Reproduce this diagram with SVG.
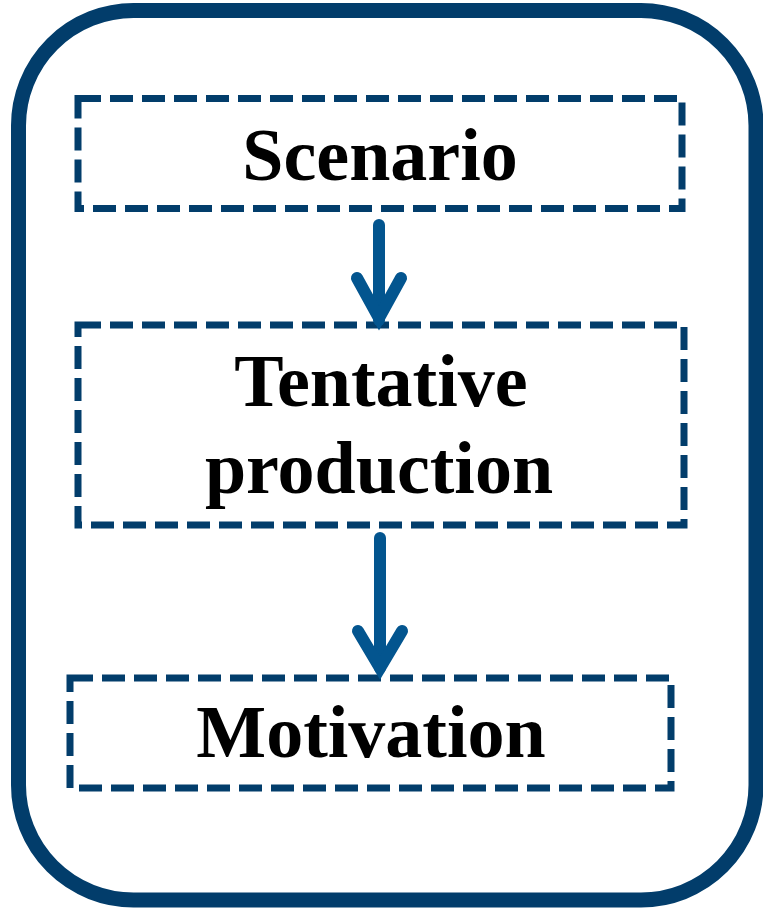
<svg xmlns="http://www.w3.org/2000/svg" width="763" height="908" viewBox="0 0 763 908">
<style>
.box{fill:none;stroke:#023D6B;stroke-width:7;stroke-dasharray:23 9}
.lbl{font-family:"Liberation Serif","Times New Roman",serif;font-weight:bold;font-size:74px;fill:#000;text-anchor:middle}
.arr{fill:none;stroke:#03558F;stroke-width:12;stroke-linecap:round;stroke-linejoin:miter}
</style>
<rect width="763" height="908" fill="#fff"/>
<g id="frame"><rect x="18.5" y="10.5" width="737.5" height="889.5" rx="115" ry="115" fill="none" stroke="#023D6B" stroke-width="15"/></g>
<g id="scenario">
<rect class="box" x="78" y="98.5" width="604" height="110"/>
<text class="lbl" x="380" y="180">Scenario</text>
</g>
<g id="tentative">
<rect class="box" x="78" y="325" width="606" height="200"/>
<text class="lbl" x="381" y="406">Tentative</text>
<text class="lbl" x="379" y="493">production</text>
</g>
<g id="motivation">
<rect class="box" x="70" y="678" width="601" height="110"/>
<text class="lbl" x="371" y="757">Motivation</text>
</g>
<g id="connectors">
<path class="arr" d="M379 225 V320" stroke-linecap="butt"/>
<path class="arr" d="M357 278 L379 318 L401 278"/>
<path class="arr" d="M380 538 V668" stroke-linecap="butt"/>
<path class="arr" d="M358 631 L380 668 L402 631"/>
</g>
</svg>
